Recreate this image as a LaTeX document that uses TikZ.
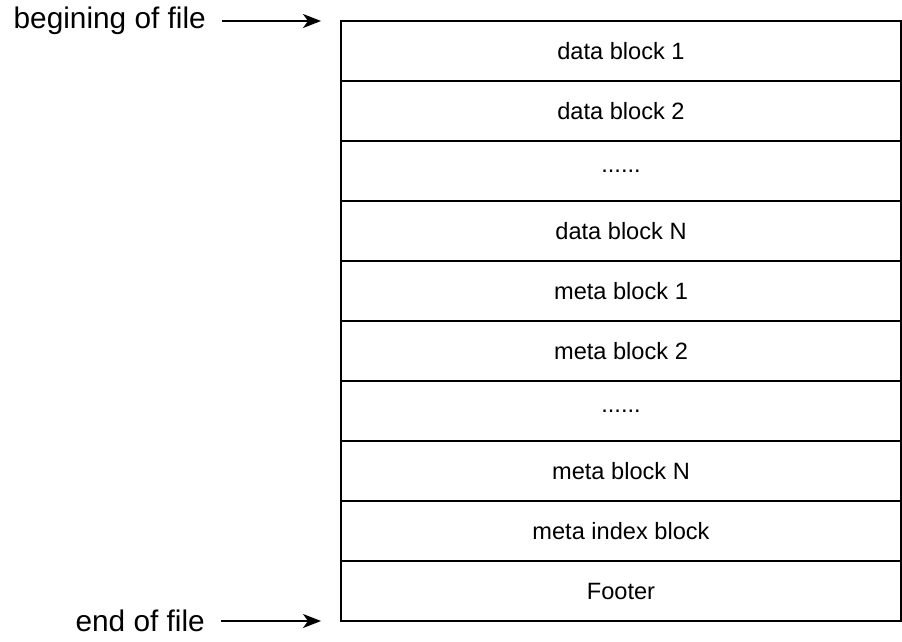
\documentclass[tikz,border=0pt]{standalone}
\usepackage{fontspec}
\setmainfont{Liberation Sans}
\usetikzlibrary{arrows.meta}
\begin{document}
\begin{tikzpicture}[x=1pt,y=-1pt,
  row/.style={draw,line width=1.8pt,minimum width=560pt,minimum height=60pt,inner sep=0pt,outer sep=0pt,anchor=north west,font=\fontsize{23.6}{26}\selectfont},
  lbl/.style={inner sep=0pt,font=\fontsize{29.8}{32}\selectfont},
  arr/.style={line width=1.8pt,-{Stealth[length=18pt,width=14pt,inset=5pt]},shorten <=16pt}]
\useasboundingbox (0,0) rectangle (902,642);
\node[row] (r1) at (341,21) {data block 1};
\node[row] (r2) at (341,81) {data block 2};
\node[row] (r3) at (341,141) {......};
\node[row] (r4) at (341,201) {data block N};
\node[row] (r5) at (341,261) {meta block 1};
\node[row] (r6) at (341,321) {meta block 2};
\node[row] (r7) at (341,381) {......};
\node[row] (r8) at (341,441) {meta block N};
\node[row] (r9) at (341,501) {meta index block};
\node[row] (r10) at (341,561) {Footer};
\node[lbl,anchor=east] (beg) at (206,21) {begining of file};
\node[lbl,anchor=east] (eof) at (205,621) {end of file};
\coordinate (tipA) at (321,21);
\coordinate (tipB) at (321,621);
\draw[arr] (beg.east) -- (tipA);
\draw[arr] (eof.east) -- (tipB);
\end{tikzpicture}
\end{document}
